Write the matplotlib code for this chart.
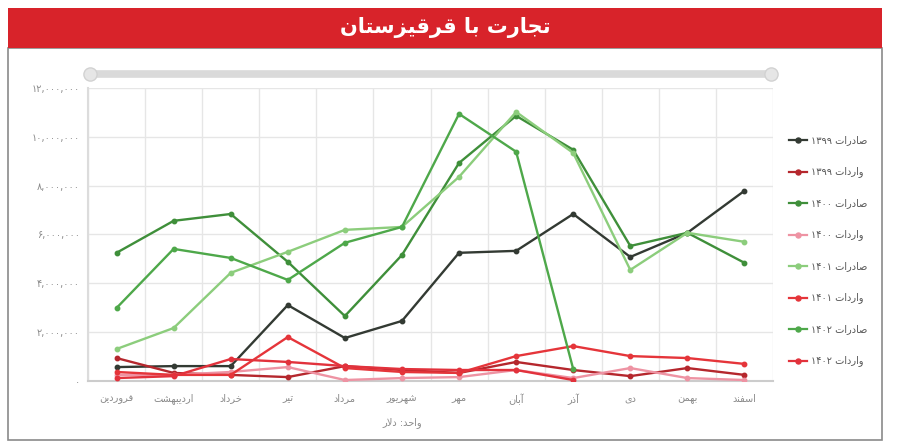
import matplotlib.pyplot as plt
from matplotlib.lines import Line2D
from matplotlib.patches import Rectangle

# ماه ها و داده ها (دلار)
months = ['فروردین', 'اردیبهشت', 'خرداد', 'تیر', 'مرداد', 'شهریور',
          'مهر', 'آبان', 'آذر', 'دی', 'بهمن', 'اسفند']

exp_1399 = [570000, 610000, 610000, 3110000, 1760000, 2460000,
            5250000, 5330000, 6840000, 5080000, 6070000, 7790000]
imp_1399 = [940000, 330000, 250000, 160000, 610000, 450000,
            330000, 780000, 450000, 200000, 530000, 250000]
exp_1400 = [5250000, 6560000, 6840000, 4880000, 2660000, 5160000,
            8930000, 10860000, 9470000, 5530000, 6070000, 4840000]
imp_1400 = [250000, 250000, 370000, 570000, 40000, 120000,
            160000, 450000, 120000, 530000, 120000, 40000]
exp_1401 = [1310000, 2170000, 4430000, 5290000, 6190000, 6310000,
            8360000, 11020000, 9340000, 4550000, 6070000, 5700000]
imp_1401 = [370000, 250000, 250000, 1800000, 530000, 370000,
            330000, 1020000, 1430000, 1020000, 940000, 700000]
exp_1402 = [2990000, 5410000, 5040000, 4140000, 5660000, 6310000,
            10940000, 9390000, 490000]
imp_1402 = [120000, 200000, 900000, 780000, 610000, 490000,
            450000, 450000, 40000]

series = [
    ('صادرات ۱۳۹۹', exp_1399, '#333a33'),
    ('واردات ۱۳۹۹', imp_1399, '#b5272d'),
    ('صادرات ۱۴۰۰', exp_1400, '#3f8f3a'),
    ('واردات ۱۴۰۰', imp_1400, '#ee93a3'),
    ('صادرات ۱۴۰۱', exp_1401, '#8ccd7c'),
    ('واردات ۱۴۰۱', imp_1401, '#e5353a'),
    ('صادرات ۱۴۰۲', exp_1402, '#4ea84a'),
    ('واردات ۱۴۰۲', imp_1402, '#e2323c'),
]

title = 'تجارت با قرقیزستان'
unit_label = 'واحد: دلار'

# شکل دهی حروف فارسی (بدون arabic_reshaper)
FORMS = {
    'ا': ('\uFE8D', '\uFE8E', None, None),
    'آ': ('\uFE81', '\uFE82', None, None),
    'ب': ('\uFE8F', '\uFE90', '\uFE91', '\uFE92'),
    'ت': ('\uFE95', '\uFE96', '\uFE97', '\uFE98'),
    'ج': ('\uFE9D', '\uFE9E', '\uFE9F', '\uFEA0'),
    'ح': ('\uFEA1', '\uFEA2', '\uFEA3', '\uFEA4'),
    'خ': ('\uFEA5', '\uFEA6', '\uFEA7', '\uFEA8'),
    'د': ('\uFEA9', '\uFEAA', None, None),
    'ذ': ('\uFEAB', '\uFEAC', None, None),
    'ر': ('\uFEAD', '\uFEAE', None, None),
    'ز': ('\uFEAF', '\uFEB0', None, None),
    'س': ('\uFEB1', '\uFEB2', '\uFEB3', '\uFEB4'),
    'ش': ('\uFEB5', '\uFEB6', '\uFEB7', '\uFEB8'),
    'ص': ('\uFEB9', '\uFEBA', '\uFEBB', '\uFEBC'),
    'ف': ('\uFED1', '\uFED2', '\uFED3', '\uFED4'),
    'ق': ('\uFED5', '\uFED6', '\uFED7', '\uFED8'),
    'ل': ('\uFEDD', '\uFEDE', '\uFEDF', '\uFEE0'),
    'م': ('\uFEE1', '\uFEE2', '\uFEE3', '\uFEE4'),
    'ن': ('\uFEE5', '\uFEE6', '\uFEE7', '\uFEE8'),
    'ه': ('\uFEE9', '\uFEEA', '\uFEEB', '\uFEEC'),
    'و': ('\uFEED', '\uFEEE', None, None),
    'ی': ('\uFBFC', '\uFBFD', '\uFBFE', '\uFBFF'),
}


def shape(word):
    out = []
    i = 0
    while i < len(word):
        ch = word[i]
        prev = word[i - 1] if i > 0 else None
        nxt = word[i + 1] if i + 1 < len(word) else None
        join_prev = prev in FORMS and FORMS[prev][2] is not None
        if ch == 'ل' and nxt == 'ا':
            out.append('\uFEFC' if join_prev else '\uFEFB')
            i += 2
            continue
        if ch not in FORMS:
            out.append(ch)
            i += 1
            continue
        iso, fin, ini, med = FORMS[ch]
        join_next = ini is not None and nxt in FORMS
        if join_prev and join_next:
            out.append(med)
        elif join_prev:
            out.append(fin)
        elif join_next:
            out.append(ini)
        else:
            out.append(iso)
        i += 1
    return ''.join(out)


def fa(text):
    tokens = text.split(' ')
    vis = []
    for t in reversed(tokens):
        if all(c in '۰۱۲۳۴۵۶۷۸۹,' for c in t):
            vis.append(t)
        else:
            vis.append(shape(t)[::-1])
    return ' '.join(vis)


def fa_num(v):
    s = f'{int(v):,}'
    return s.translate(str.maketrans('0123456789', '۰۱۲۳۴۵۶۷۸۹'))


W, H = 910, 443
fig = plt.figure(figsize=(W / 100, H / 100), dpi=100)
fig.patch.set_facecolor('white')


def fx(x):
    return x / W


def fy(y):
    return 1 - y / H


# قاب و نوار عنوان
fig.add_artist(Rectangle((fx(8), fy(440)), fx(874), (440 - 48) / H,
                         transform=fig.transFigure, facecolor='white',
                         edgecolor='#8a8a8a', linewidth=1.2, zorder=-2))
fig.add_artist(Rectangle((fx(8), fy(48)), fx(874), 40 / H,
                         transform=fig.transFigure, facecolor='#d8232a',
                         edgecolor='none', zorder=-1))
fig.text(fx(445), fy(28), fa(title), color='white', fontsize=15,
         fontweight='bold', ha='center', va='center')

# نوار اسلایدر بالا
fig.add_artist(Line2D([fx(90), fx(771)], [fy(74), fy(74)], color='#dadada',
                      lw=5.5, solid_capstyle='round', transform=fig.transFigure))
fig.add_artist(Line2D([fx(90), fx(771)], [fy(74), fy(74)], linestyle='none',
                      marker='o', markersize=9.5, markerfacecolor='#e6e6e6',
                      markeredgecolor='#d2d2d2', transform=fig.transFigure))

ax = fig.add_axes([fx(88), fy(381), fx(773 - 88), (381 - 88) / H])
x = list(range(len(months)))
for name, vals, color in series:
    ax.plot(x[:len(vals)], vals, color=color, linewidth=1.7, marker='o',
            markersize=3.2, zorder=3)

ax.set_xlim(-0.5, 11.5)
ax.set_ylim(0, 12000000)
ax.set_yticks(range(0, 12000001, 2000000))
ax.set_yticklabels([fa_num(v) for v in range(0, 12000001, 2000000)])
ax.set_xticks(x)
ax.set_xticklabels([fa(m) for m in months])
ax.set_xticks([i + 0.5 for i in range(-1, 12)], minor=True)
ax.tick_params(axis='both', which='both', length=0, labelsize=7,
               colors='#8a8a8a')
ax.tick_params(axis='x', pad=9)
ax.tick_params(axis='y', pad=6)
ax.grid(axis='y', color='#e6e6e6', linewidth=1)
ax.grid(axis='x', which='minor', color='#e6e6e6', linewidth=1)
for side in ('top', 'right'):
    ax.spines[side].set_visible(False)
ax.spines['left'].set_color('#dcdcdc')
ax.spines['left'].set_linewidth(1.5)
ax.spines['bottom'].set_color('#cccccc')
ax.spines['bottom'].set_linewidth(1.5)

fig.text(fx(402), fy(423), fa(unit_label), fontsize=7, color='#8a8a8a',
         ha='center', va='center')

# راهنما
for i, (name, vals, color) in enumerate(series):
    yy = fy(140 + i * 31.5)
    fig.add_artist(Line2D([fx(789), fx(807)], [yy, yy], color=color, lw=1.6,
                          transform=fig.transFigure))
    fig.add_artist(Line2D([fx(798)], [yy], color=color, marker='o',
                          markersize=3.6, transform=fig.transFigure))
    fig.text(fx(811), yy, fa(name), fontsize=7, color='#555555',
             ha='left', va='center')

fig.savefig('out.png', dpi=100)
